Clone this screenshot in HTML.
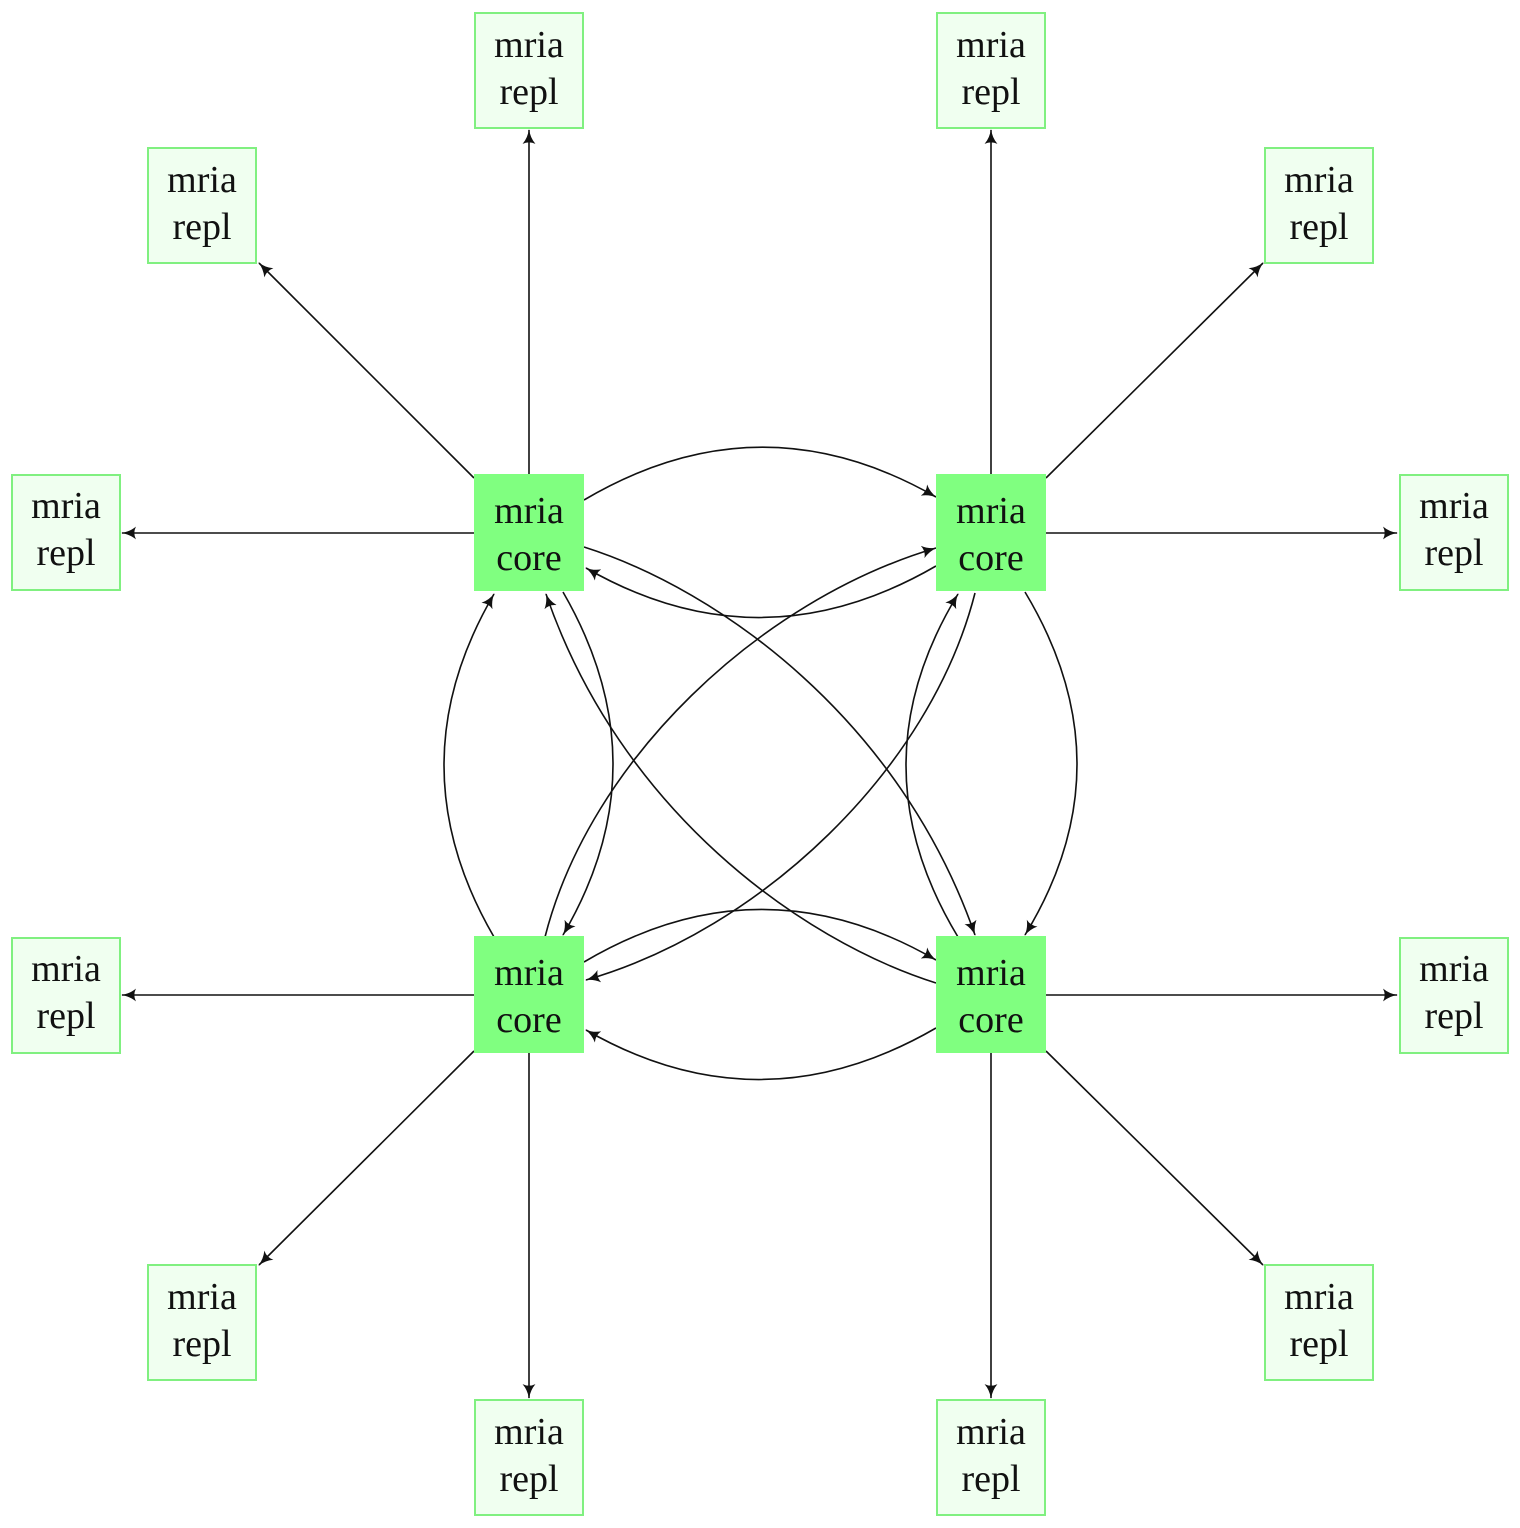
<!DOCTYPE html>
<html><head><meta charset="utf-8"><style>
body{margin:0;background:#fff}
svg{display:block}
text{font-family:"Liberation Serif",serif;font-size:38px;fill:#111;text-anchor:middle}
.r{fill:#f0fff0;stroke:#80f080;stroke-width:2}
.c{fill:#80ff80}
path,line{stroke:#111;stroke-width:1.6;fill:none}
</style></head><body>
<svg width="1520" height="1528" viewBox="0 0 1520 1528">
<defs><marker id="a" viewBox="0 0 14 12" refX="13" refY="6" markerWidth="15" markerHeight="13" markerUnits="userSpaceOnUse" orient="auto"><path d="M0,0 Q6,5 14,6 Q6,7 0,12 Q3,6 0,0Z" style="fill:#111;stroke:none"/></marker></defs>
<g marker-end="url(#a)">
<line x1="529" y1="474" x2="529" y2="130"/>
<line x1="474" y1="478" x2="259" y2="263"/>
<line x1="474" y1="533" x2="122" y2="533"/>
<line x1="991" y1="474" x2="991" y2="130"/>
<line x1="1046" y1="478" x2="1263" y2="263"/>
<line x1="1046" y1="533" x2="1397" y2="533"/>
<line x1="474" y1="995" x2="122" y2="995"/>
<line x1="474" y1="1051" x2="259" y2="1265"/>
<line x1="529" y1="1053" x2="529" y2="1398"/>
<line x1="1046" y1="995" x2="1397" y2="995"/>
<line x1="1046" y1="1051" x2="1263" y2="1265"/>
<line x1="991" y1="1053" x2="991" y2="1398"/>
<path d="M584,500 Q760,396 936,497"/>
<path d="M936,566 Q760,668 586,568"/>
<path d="M584,962 Q760,858 936,960"/>
<path d="M936,1028 Q760,1130 586,1030"/>
<path d="M494,937 Q394,765 494,594"/>
<path d="M563,592 Q663,765 563,935"/>
<path d="M958,937 Q854,765 958,594"/>
<path d="M1025,592 Q1129,765 1025,935"/>
<path d="M584,547 C720,590 900,720 975,935"/>
<path d="M545,937 C590,760 760,600 936,548"/>
<path d="M975,593 C930,770 760,930 586,980"/>
<path d="M936,983 C800,940 620,810 546,594"/>
</g>
<g>
<rect class="r" x="475" y="13" width="108" height="115"/><text x="529" y="57">mria</text><text x="529" y="104">repl</text>
<rect class="r" x="937" y="13" width="108" height="115"/><text x="991" y="57">mria</text><text x="991" y="104">repl</text>
<rect class="r" x="148" y="148" width="108" height="115"/><text x="202" y="192">mria</text><text x="202" y="239">repl</text>
<rect class="r" x="1265" y="148" width="108" height="115"/><text x="1319" y="192">mria</text><text x="1319" y="239">repl</text>
<rect class="r" x="12" y="475" width="108" height="115"/><text x="66" y="518">mria</text><text x="66" y="565">repl</text>
<rect class="r" x="1400" y="475" width="108" height="115"/><text x="1454" y="518">mria</text><text x="1454" y="565">repl</text>
<rect class="r" x="12" y="938" width="108" height="115"/><text x="66" y="981">mria</text><text x="66" y="1028">repl</text>
<rect class="r" x="1400" y="938" width="108" height="115"/><text x="1454" y="981">mria</text><text x="1454" y="1028">repl</text>
<rect class="r" x="148" y="1265" width="108" height="115"/><text x="202" y="1309">mria</text><text x="202" y="1356">repl</text>
<rect class="r" x="1265" y="1265" width="108" height="115"/><text x="1319" y="1309">mria</text><text x="1319" y="1356">repl</text>
<rect class="r" x="475" y="1400" width="108" height="115"/><text x="529" y="1444">mria</text><text x="529" y="1491">repl</text>
<rect class="r" x="937" y="1400" width="108" height="115"/><text x="991" y="1444">mria</text><text x="991" y="1491">repl</text>
<rect class="c" x="474" y="474" width="110" height="117"/><text x="529" y="523">mria</text><text x="529" y="570">core</text>
<rect class="c" x="936" y="474" width="110" height="117"/><text x="991" y="523">mria</text><text x="991" y="570">core</text>
<rect class="c" x="474" y="936" width="110" height="117"/><text x="529" y="985">mria</text><text x="529" y="1032">core</text>
<rect class="c" x="936" y="936" width="110" height="117"/><text x="991" y="985">mria</text><text x="991" y="1032">core</text>
</g>
</svg>
</body></html>
